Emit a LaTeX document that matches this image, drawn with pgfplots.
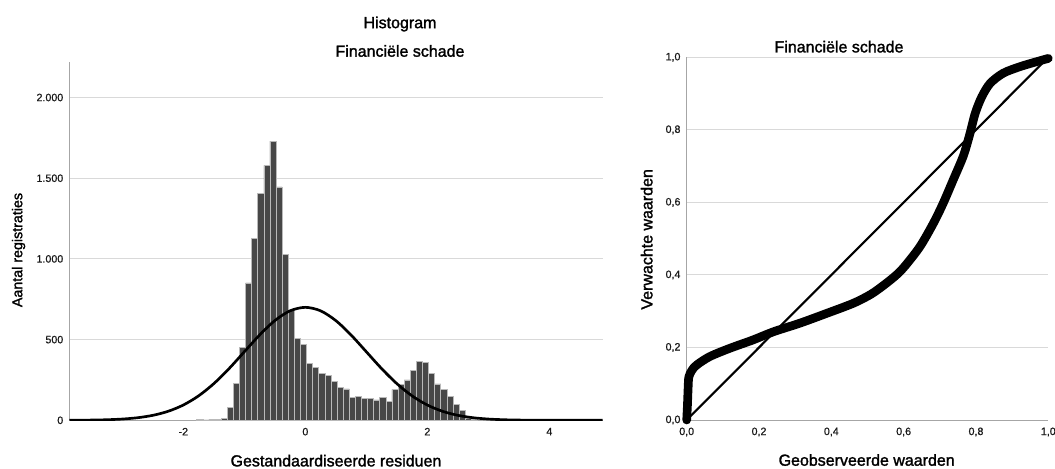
\documentclass[border=0pt]{standalone}
\usepackage{fontspec}
\setmainfont{Liberation Sans}
\newfontfamily\lblfont{Liberation Sans}[FakeBold=1.6]
\newfontfamily\tckfont{Liberation Sans}[FakeBold=0.8]
\usepackage{pgfplots}
\pgfplotsset{compat=1.18}
\definecolor{barfill}{HTML}{474747}
\definecolor{gridc}{HTML}{D9D9D9}
\definecolor{axl}{HTML}{A6A6A6}
\definecolor{txt}{HTML}{1A1A1A}

\pgfplotsset{
  spss/.style={
    scale only axis, anchor=south west,
    axis x line=bottom, axis y line=left,
    axis line style={draw=axl, line width=0.75pt, -},
    major tick length=0pt,
    ymajorgrids, grid style={draw=gridc, line width=0.75pt},
    tick label style={font=\tckfont\fontsize{8}{9}\selectfont, text=txt},
    yticklabel style={anchor=east, inner sep=0pt, xshift=-4.5pt},
    xticklabel style={anchor=north, inner sep=0pt, yshift=-5.5pt},
  }
}

\begin{document}
\begin{tikzpicture}
\useasboundingbox (0pt,0pt) rectangle (791.25pt,-351pt);

% histogram of standardised residuals
\begin{axis}[spss,
  at={(52.125pt,-315.225pt)}, width=399.9pt, height=268.725pt,
  xmin=-3.866, xmax=4.875, ymin=0, ymax=2220,
  xtick={-2,0,2,4},
  xticklabels={-2,0,2,4},
  ytick={0,500,1000,1500,2000},
  yticklabels={0,500,{1.000},{1.500},{2.000}},
]
\addplot[ybar interval, fill=barfill, draw=gray!55, line width=0.4pt] coordinates {
(-1.78,5) (-1.68,2) (-1.58,5) (-1.48,8) (-1.38,14)
(-1.28,80) (-1.18,230) (-1.08,452) (-0.98,852) (-0.88,1127)
(-0.78,1405) (-0.68,1580) (-0.58,1730) (-0.48,1446) (-0.38,1028)
(-0.28,683) (-0.18,508) (-0.08,470) (0.02,353) (0.12,328)
(0.22,291) (0.32,276) (0.42,243) (0.52,204) (0.62,194)
(0.72,142) (0.82,146) (0.92,134) (1.02,134) (1.12,126)
(1.22,140) (1.32,116) (1.42,192) (1.52,223) (1.62,250)
(1.72,307) (1.82,363) (1.92,357) (2.02,291) (2.12,225)
(2.22,192) (2.32,146) (2.42,98) (2.52,62) (2.62,15)
(2.72,5) (2.82,0)
};
\addplot[black, line width=2pt, smooth] coordinates {
(-3.866,0.4) (-3.5,1.5) (-3.25,3.6) (-3,7.8) (-2.75,16) (-2.5,30.8)
(-2.25,55.7) (-2,94.7) (-1.75,151.4) (-1.5,227.3) (-1.25,320.5)
(-1,424.6) (-0.75,528.4) (-0.5,617.7) (-0.25,678.5) (0,700)
(0.25,678.5) (0.5,617.7) (0.75,528.4) (1,424.6) (1.25,320.5)
(1.5,227.3) (1.75,151.4) (2,94.7) (2.25,55.7) (2.5,30.8)
(2.75,16) (3,7.8) (3.25,3.6) (3.5,1.5) (4,0.2) (4.875,0)
};
\end{axis}

% P-P plot
\begin{axis}[spss,
  at={(515.025pt,-315pt)}, width=271.2pt, height=272.025pt,
  xmin=0, xmax=1, ymin=0, ymax=1, clip=false,
  xtick={0,0.2,0.4,0.6,0.8,1},
  xticklabels={{0,0},{0,2},{0,4},{0,6},{0,8},{1,0}},
  ytick={0,0.2,0.4,0.6,0.8,1},
  yticklabels={{0,0},{0,2},{0,4},{0,6},{0,8},{1,0}},
]
\addplot[black, line width=1.6pt] coordinates {(0,0) (1,1)};
\addplot[black, line width=6.5pt, line cap=round, line join=round, smooth] coordinates {
(0,0) (0.002,0.04) (0.004,0.09) (0.006,0.119) (0.015,0.138) (0.028,0.152)
(0.064,0.175) (0.12,0.198) (0.184,0.221) (0.239,0.243) (0.313,0.267)
(0.387,0.294) (0.461,0.322) (0.510,0.347) (0.548,0.374) (0.580,0.400)
(0.604,0.425) (0.645,0.478) (0.682,0.542) (0.709,0.597) (0.737,0.662)
(0.765,0.728) (0.782,0.785) (0.798,0.846) (0.816,0.891) (0.839,0.928)
(0.875,0.956) (0.921,0.974) (0.968,0.988) (1.0,0.997)
};
\end{axis}

% titles and axis labels
\node[font=\lblfont\fontsize{12}{14}\selectfont] at (300pt,-18pt) {Histogram};
\node[font=\lblfont\fontsize{12}{14}\selectfont] at (300pt,-38.25pt) {Financiële schade};
\node[font=\lblfont\fontsize{12}{14}\selectfont] at (629.25pt,-35pt) {Financiële schade};
\node[font=\lblfont\fontsize{10.7}{13}\selectfont, rotate=90] at (13.9pt,-187.5pt) {Aantal registraties};
\node[font=\lblfont\fontsize{12}{14}\selectfont] at (252pt,-345.5pt) {Gestandaardiseerde residuen};
\node[font=\lblfont\fontsize{12}{14}\selectfont, rotate=90] at (485pt,-179.5pt) {Verwachte waarden};
\node[font=\lblfont\fontsize{12}{14}\selectfont] at (650pt,-345pt) {Geobserveerde waarden};
\end{tikzpicture}
\end{document}
